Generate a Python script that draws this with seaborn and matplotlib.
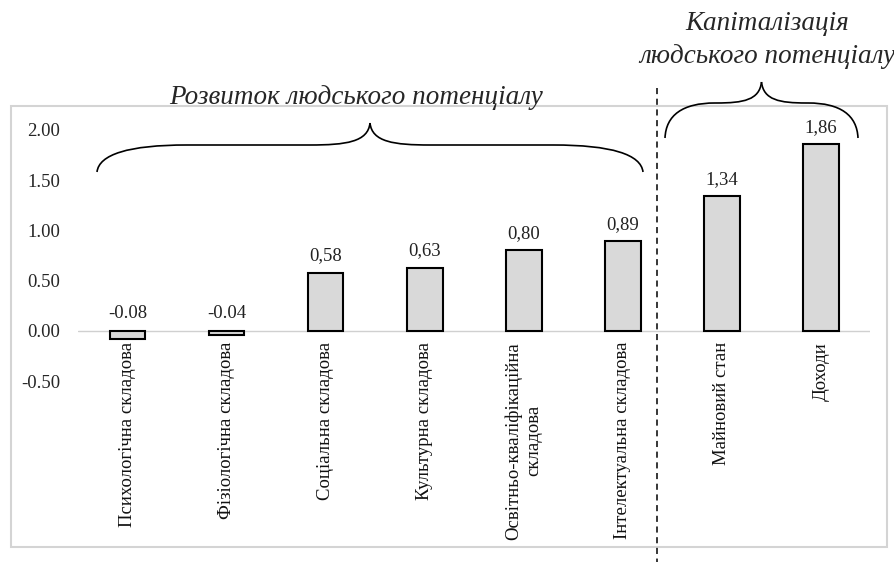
import matplotlib
matplotlib.use("Agg")
import matplotlib.pyplot as plt
from matplotlib.path import Path
from matplotlib.patches import PathPatch, Rectangle
import seaborn as sns
import pandas as pd

categories = [
    "Психологічна складова",
    "Фізіологічна складова",
    "Соціальна складова",
    "Культурна складова",
    "Освітньо-кваліфікаційна\nскладова",
    "Інтелектуальна складова",
    "Майновий стан",
    "Доходи",
]
values = [-0.08, -0.04, 0.58, 0.63, 0.80, 0.89, 1.34, 1.86]
value_labels = ["-0.08", "-0.04", "0,58", "0,63", "0,80", "0,89", "1,34", "1,86"]
ytick_values = [-0.5, 0.0, 0.5, 1.0, 1.5, 2.0]
ytick_labels = ["-0.50", "0.00", "0.50", "1.00", "1.50", "2.00"]
group_titles = ["Розвиток людського потенціалу", "Капіталізація\nлюдського потенціалу"]

sns.set_style("white")
plt.rcParams["font.family"] = ["Liberation Serif", "DejaVu Serif"]

W, H = 894, 562
fig = plt.figure(figsize=(W / 100, H / 100), dpi=100)

# overlay for frame / annotations (pixel coordinates)
ov = fig.add_axes([0, 0, 1, 1])
ov.set_xlim(0, W)
ov.set_ylim(H, 0)
ov.axis("off")

ov.add_patch(Rectangle((11, 106), 876, 441, fill=False, edgecolor="#d4d4d4", linewidth=1.5))

ax = fig.add_axes([78 / W, 1 - 381 / H, (870.5 - 78) / W, (381 - 130) / H])
ax.patch.set_alpha(0)

df = pd.DataFrame({"cat": categories, "val": values})
sns.barplot(data=df, x="cat", y="val", color="#d9d9d9", width=0.36,
            edgecolor="black", linewidth=1.5, saturation=1, ax=ax)

ax.set_xlim(-0.5, len(categories) - 0.5)
ax.set_ylim(-0.5, 2.0)
ax.set_yticks(ytick_values)
ax.set_yticklabels(ytick_labels, fontsize=13.5)
ax.tick_params(axis="y", length=0, pad=13)
ax.set_xticks([])
ax.set_xlabel("")
ax.set_ylabel("")
for s in ax.spines.values():
    s.set_visible(False)
ax.axhline(0, color="#d0d0d0", linewidth=1, zorder=0)

for i, (v, lab) in enumerate(zip(values, value_labels)):
    ax.annotate(lab, xy=(i, max(v, 0)), xytext=(0, 6), textcoords="offset points",
                ha="center", va="bottom", fontsize=13.5, color="#222222")
    ax.annotate(categories[i], xy=(i, 0), xytext=(0, -8), textcoords="offset points",
                ha="center", va="top", rotation=90, fontsize=13.5, multialignment="center",
                color="#111111")

# dashed separator
ov.plot([657, 657], [88, 562], color="black", linestyle=(0, (4, 3)), linewidth=1.1)


def half(x0, yb, ym, xm, yt, xa, xb, c1, c2):
    # from end point (x0,yb) to the peak (xm,yt); sign-aware for mirrored halves
    d = 1 if xm > x0 else -1
    verts = [
        (x0, yb), (x0 + d * c1, ym + (yb - ym) * 0.35), (x0 + d * (abs(xa - x0) * 0.35), ym), (xa, ym),
        (xb, ym),
        (xb + d * abs(xm - xb) * 0.6, ym), (xm - d * c2, ym - 3), (xm, yt),
    ]
    codes = [Path.MOVETO, Path.CURVE4, Path.CURVE4, Path.CURVE4,
             Path.LINETO,
             Path.CURVE4, Path.CURVE4, Path.CURVE4]
    return verts, codes


def brace(x0, x1, yb, ym, yt, wa, wb, c1, c2):
    xm = (x0 + x1) / 2
    for side in (1, -1):
        xs = x0 if side == 1 else x1
        xa = xs + side * wa
        xb = xm - side * wb
        v, c = half(xs, yb, ym, xm, yt, xa, xb, c1, c2)
        ov.add_patch(PathPatch(Path(v, c), fill=False, edgecolor="black", linewidth=1.2))


brace(97, 643, 172, 145, 123, 90, 60, 2, 2)
brace(665, 858, 138, 103, 82, 50, 45, 1, 2)

ov.text(356, 97, group_titles[0], fontsize=19.5, style="italic", ha="center", va="center")
ov.text(767, 40, group_titles[1], fontsize=19.5, style="italic", ha="center", va="center",
        linespacing=1.45)

fig.savefig("out.png", dpi=100)
